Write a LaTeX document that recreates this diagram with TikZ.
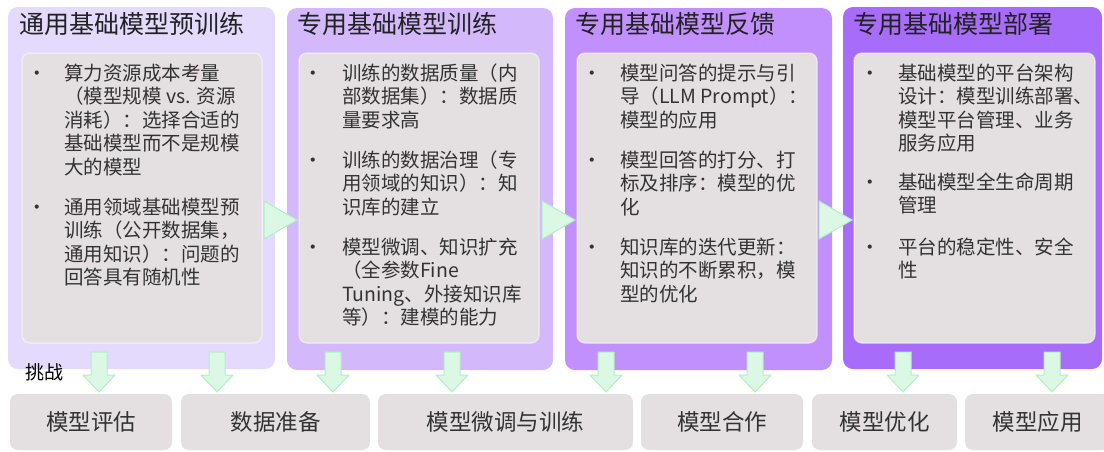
\documentclass[tikz,border=0pt]{standalone}
\usepackage{fontspec}
\setmainfont{Noto Sans CJK SC}
\definecolor{pone}{HTML}{E4DAFD}
\definecolor{ptwo}{HTML}{D3B9FC}
\definecolor{pthree}{HTML}{C190FC}
\definecolor{pfour}{HTML}{A86CFA}
\definecolor{inbox}{HTML}{E4DFE0}
\definecolor{gfill}{HTML}{DBF8E5}
\definecolor{gdraw}{HTML}{B3EEC6}
\definecolor{txt}{HTML}{333333}
\definecolor{ttl}{HTML}{222222}
\newcommand{\parlines}[1]{\parbox[t]{230pt}{\raggedright #1}}
\tikzset{
  panelbox/.style={rounded corners=10pt},
  innerbox/.style={fill=inbox, draw=white, draw opacity=0.45, line width=1.5pt, rounded corners=8pt},
  ttlstyle/.style={anchor=base west, inner sep=0pt, text=ttl, font=\fontsize{25}{30}\selectfont},
  para/.style={anchor=base west, inner sep=0pt, text=txt, font=\fontsize{19.5}{23.5}\selectfont},
  bul/.style={anchor=base, inner sep=0pt, text=txt, font=\fontsize{19.5}{23.5}\selectfont},
  botbox/.style={fill=inbox, rounded corners=8pt, inner sep=0pt, minimum height=56pt, text=txt, font=\fontsize{22.5}{27}\selectfont},
  darr/.pic={\draw[fill=gfill, draw=gdraw, line width=1pt, line join=miter] (-8,0) -- (8,0) -- (8,23) -- (16,23) -- (0,40) -- (-16,23) -- (-8,23) -- cycle;},
  rarr/.pic={\draw[fill=gfill, draw=gdraw, line width=1pt, line join=miter] (0,-19) -- (33,0) -- (0,19) -- cycle;}
}
\begin{document}
\begin{tikzpicture}[x=1pt,y=-1pt]
\useasboundingbox (0,0) rectangle (1104,451);
% panels
\path[panelbox, fill=pone] (8,7) rectangle (275,369);
\path[panelbox, fill=ptwo] (287,8) rectangle (553,370);
\path[panelbox, fill=pthree] (565,8) rectangle (832,370);
\path[panelbox, fill=pfour] (843,7) rectangle (1102,369);
% inner boxes
\path[innerbox] (22,53) rectangle (262,343);
\path[innerbox] (299,53) rectangle (539,343);
\path[innerbox] (577,53) rectangle (817,343);
\path[innerbox] (854,53) rectangle (1095,343);
% titles
\node[ttlstyle] (t1) at (19,33.5) {通用基础模型预训练};
\node[ttlstyle] (t2) at (297,33.5) {专用基础模型训练};
\node[ttlstyle] (t3) at (575,33.5) {专用基础模型反馈};
\node[ttlstyle] (t4) at (853,33.5) {专用基础模型部署};
% panel 1
\node[bul] (b11) at (37,80.4) {•};
\node[para] (a11) at (64,80.4) {\parlines{算力资源成本考量\\（模型规模 vs. 资源\\消耗）：选择合适的\\基础模型而不是规模\\大的模型}};
\node[bul] (b12) at (37,214.4) {•};
\node[para] (a12) at (64,214.4) {\parlines{通用领域基础模型预\\训练（公开数据集，\\通用知识）：问题的\\回答具有随机性}};
% panel 2
\node[bul] (b21) at (313,80.4) {•};
\node[para] (a21) at (342,80.4) {\parlines{训练的数据质量（内\\部数据集）：数据质\\量要求高}};
\node[bul] (b22) at (313,167.4) {•};
\node[para] (a22) at (342,167.4) {\parlines{训练的数据治理（专\\用领域的知识）：知\\识库的建立}};
\node[bul] (b23) at (313,254.4) {•};
\node[para] (a23) at (342,254.4) {\parlines{模型微调、知识扩充\\（全参数Fine\\Tuning、外接知识库\\等）：建模的能力}};
% panel 3
\node[bul] (b31) at (592,80.4) {•};
\node[para] (a31) at (620,80.4) {\parlines{模型问答的提示与引\\导（LLM Prompt）：\\模型的应用}};
\node[bul] (b32) at (592,167.4) {•};
\node[para] (a32) at (620,167.4) {\parlines{模型回答的打分、打\\标及排序：模型的优\\化}};
\node[bul] (b33) at (592,254.4) {•};
\node[para] (a33) at (620,254.4) {\parlines{知识库的迭代更新：\\知识的不断累积，模\\型的优化}};
% panel 4
\node[bul] (b41) at (870,80.4) {•};
\node[para] (a41) at (898,80.4) {\parlines{基础模型的平台架构\\设计：模型训练部署、\\模型平台管理、业务\\服务应用}};
\node[bul] (b42) at (870,189.4) {•};
\node[para] (a42) at (898,189.4) {\parlines{基础模型全生命周期\\管理}};
\node[bul] (b43) at (870,254.4) {•};
\node[para] (a43) at (898,254.4) {\parlines{平台的稳定性、安全\\性}};
% right arrows between panels
\pic (r1) at (264,220) {rarr};
\pic (r2) at (542,220) {rarr};
\pic (r3) at (819,220) {rarr};
% challenge label
\node[anchor=base west, inner sep=0pt, font=\fontsize{19}{23}\selectfont, text=black] (ch) at (25,379) {挑战};
% bottom boxes
\node[botbox, minimum width=162pt] (m1) at (91,422) {模型评估};
\node[botbox, minimum width=189pt] (m2) at (275.5,422) {数据准备};
\node[botbox, minimum width=255pt] (m3) at (505.5,422) {模型微调与训练};
\node[botbox, minimum width=162pt] (m4) at (722,422) {模型合作};
\node[botbox, minimum width=145pt] (m5) at (884.5,422) {模型优化};
\node[botbox, minimum width=145pt] (m6) at (1037.5,422) {模型应用};
% down arrows
\pic (d1) at (99,352) {darr};
\pic (d2) at (217,352) {darr};
\pic (d3) at (333,352) {darr};
\pic (d4) at (452,352) {darr};
\pic (d5) at (606,352) {darr};
\pic (d6) at (755,352) {darr};
\pic (d7) at (903,352) {darr};
\pic (d8) at (1052,352) {darr};
\end{tikzpicture}
\end{document}
